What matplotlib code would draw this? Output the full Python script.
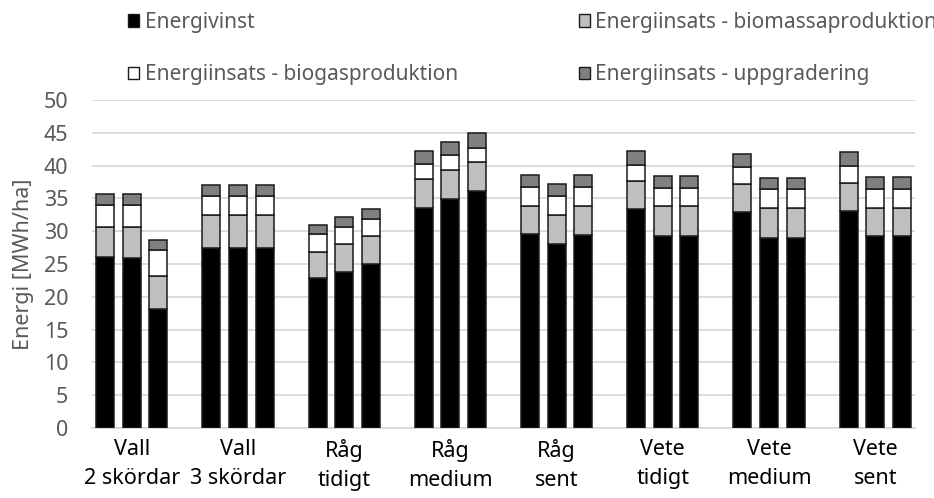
import matplotlib.pyplot as plt
from matplotlib.patches import Patch
import numpy as np

plt.rcParams['font.family'] = ['Noto Sans', 'DejaVu Sans']

groups = ['Vall\n2 skördar', 'Vall\n3 skördar', 'Råg\ntidigt', 'Råg\nmedium',
          'Råg\nsent', 'Vete\ntidigt', 'Vete\nmedium', 'Vete\nsent']

# three variants per group, MWh/ha
vinst = [26.0, 25.9, 18.2,  27.5, 27.5, 27.5,  22.8, 23.8, 25.0,  33.6, 34.9, 36.2,
         29.5, 28.0, 29.4,  33.4, 29.3, 29.3,  33.0, 29.0, 29.0,  33.1, 29.2, 29.2]
biomassa = [4.7, 4.8, 4.9,  4.9, 4.9, 4.9,  4.1, 4.3, 4.3,  4.3, 4.4, 4.3,
            4.3, 4.5, 4.4,  4.3, 4.5, 4.5,  4.2, 4.5, 4.5,  4.3, 4.4, 4.4]
biogas = [3.3, 3.3, 4.1,  2.9, 2.9, 2.9,  2.7, 2.6, 2.5,  2.4, 2.3, 2.2,
          2.9, 2.9, 2.9,  2.4, 2.8, 2.8,  2.6, 2.9, 2.9,  2.5, 2.8, 2.8]
uppgradering = [1.7, 1.7, 1.5,  1.8, 1.8, 1.8,  1.4, 1.5, 1.6,  2.0, 2.0, 2.2,
                1.8, 1.8, 1.8,  2.1, 1.8, 1.8,  2.0, 1.7, 1.7,  2.1, 1.8, 1.8]

series = [
    ('Energivinst', vinst, '#000000'),
    ('Energiinsats - biomassaproduktion', biomassa, '#bfbfbf'),
    ('Energiinsats - biogasproduktion', biogas, '#ffffff'),
    ('Energiinsats - uppgradering', uppgradering, '#808080'),
]

fig = plt.figure(figsize=(9.34, 4.98), dpi=100)
ax = fig.add_axes([92 / 934, 70 / 498, 823 / 934, 328 / 498])

n = len(groups)
offsets = np.array([-0.25, 0.0, 0.25])
x = (np.arange(n)[:, None] + offsets[None, :]).ravel()

bottom = np.zeros(len(x))
handles = []
for label, vals, color in series:
    vals = np.array(vals)
    ax.bar(x, vals, width=0.17, bottom=bottom, color=color,
           edgecolor='#1a1a1a', linewidth=1.1, zorder=3)
    bottom += vals
    handles.append(Patch(facecolor=color, edgecolor='#1a1a1a', linewidth=1.0, label=label))

ax.set_xlim(-0.375, n - 1 + 0.375)
ax.set_ylim(0, 50)
ax.set_yticks(range(0, 51, 5))
ax.set_xticks(range(n))
ax.set_xticklabels(groups, linespacing=1.5)
ax.yaxis.grid(True, color='#d9d9d9', linewidth=1.3, zorder=0)
ax.set_axisbelow(True)

for s in ['top', 'right', 'left']:
    ax.spines[s].set_visible(False)
ax.spines['bottom'].set_color('#d9d9d9')
ax.spines['bottom'].set_linewidth(1.3)

ax.tick_params(axis='both', length=0, labelsize=15.5)
ax.tick_params(axis='y', colors='#595959', pad=17)
ax.tick_params(axis='x', colors='#000000', pad=8)
ax.set_ylabel('Energi [MWh/ha]', fontsize=15.5, color='#595959', labelpad=7)

# column-first fill: left column vinst/biogas, right column biomassa/uppgradering
order = [0, 2, 1, 3]
leg = fig.legend([handles[i] for i in order], [series[i][0] for i in order],
                 loc='upper left', bbox_to_anchor=(128 / 934, 1 - 12 / 498),
                 ncol=2, frameon=False, fontsize=15, handlelength=0.55,
                 handleheight=0.55, handletextpad=0.25, columnspacing=5.8,
                 labelspacing=1.5, borderaxespad=0, borderpad=0)
for t in leg.get_texts():
    t.set_color('#595959')

fig.savefig('out.png', dpi=100)
